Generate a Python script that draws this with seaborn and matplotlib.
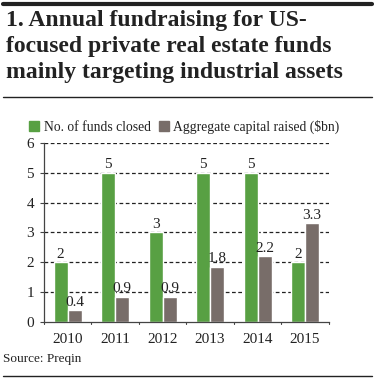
import pandas as pd
import seaborn as sns
import matplotlib.pyplot as plt
from matplotlib.lines import Line2D
from matplotlib.patches import Patch

years = ['2010', '2011', '2012', '2013', '2014', '2015']
funds_closed = [2, 5, 3, 5, 5, 2]
capital_raised = [0.4, 0.85, 0.85, 1.85, 2.2, 3.3]
capital_labels = ['0.4', '0.9', '0.9', '1.8', '2.2', '3.3']
series_names = ['No. of funds closed', 'Aggregate capital raised ($bn)']

green = '#58a043'
grey = '#786d69'

df = pd.DataFrame({'year': years * 2,
                   'value': funds_closed + capital_raised,
                   'series': [series_names[0]] * 6 + [series_names[1]] * 6})

sns.set_style('white')
plt.rcParams['font.family'] = ['Liberation Serif', 'DejaVu Serif']
plt.rcParams['text.color'] = '#222222'

fig = plt.figure(figsize=(3.78, 3.81), dpi=100)
ax = fig.add_axes([0.116, 0.155, 0.754, 0.47])

sns.barplot(data=df, x='year', y='value', hue='series', palette=[green, grey],
            width=0.59, saturation=1, ax=ax, legend=False)

ax.set_ylim(0, 6)
ax.set_xlim(-0.5, 5.5)
ax.set_yticks(range(7))
ax.set_xlabel('')
ax.set_ylabel('')
for y in range(1, 7):
    ax.axhline(y, color='#222222', lw=0.9, ls=(0, (3, 2)), zorder=0)
for s in ['top', 'right']:
    ax.spines[s].set_visible(False)
for s in ['left', 'bottom']:
    ax.spines[s].set_color('#444444')
    ax.spines[s].set_linewidth(0.9)
ax.tick_params(axis='y', length=3, width=0.8, color='#444444', labelsize=11, pad=4, direction='out', left=True,
               labelcolor='#222222')
ax.set_xticks(range(6))
ax.set_xticklabels(years, fontsize=11, color='#222222')
ax.tick_params(axis='x', length=0, pad=8)
for b in [x + 0.5 for x in range(-1, 6)]:
    ax.plot([b, b], [0, -0.08], color='#444444', lw=0.8, clip_on=False)

bars = ax.patches
for i, bar in enumerate(bars[:6]):
    ax.text(bar.get_x() + bar.get_width() / 2, bar.get_height() + 0.05, str(funds_closed[i]),
            ha='center', va='bottom', fontsize=11)
for i, bar in enumerate(bars[6:12]):
    ax.text(bar.get_x() + bar.get_width() / 2, bar.get_height() + 0.05, capital_labels[i],
            ha='center', va='bottom', fontsize=11)

# title block
fig.add_artist(Line2D([0.008, 0.985], [0.99, 0.99], color='#222222', lw=3))
fig.text(0.015, 0.975, '1. Annual fundraising for US-\nfocused private real estate funds\nmainly targeting industrial assets',
         ha='left', va='top', fontsize=17, fontweight='bold', linespacing=1.32, color='#222222')
fig.add_artist(Line2D([0.008, 0.985], [0.745, 0.745], color='#222222', lw=1))

handles = [Patch(color=green), Patch(color=grey)]
fig.legend(handles, series_names, loc='center left', bbox_to_anchor=(0.045, 0.667), ncol=2,
           frameon=False, fontsize=9.8, handlelength=0.75, handleheight=0.75, handletextpad=0.3,
           columnspacing=0.6)

fig.text(0.008, 0.058, 'Source: Preqin', ha='left', va='center', fontsize=9.5)
fig.add_artist(Line2D([0.008, 0.985], [0.013, 0.013], color='#222222', lw=1))

fig.savefig('out.png', dpi=100)
